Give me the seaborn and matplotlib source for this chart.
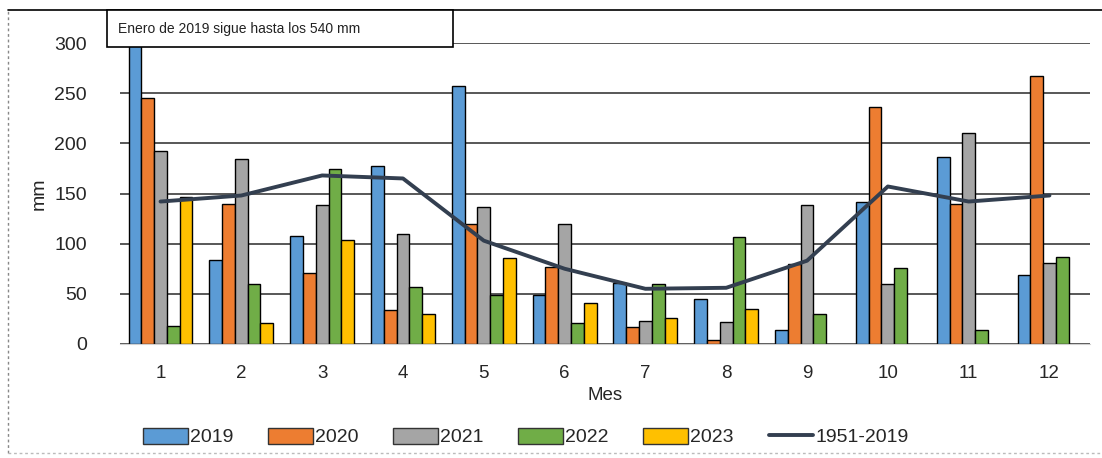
import numpy as np
import pandas as pd
import matplotlib
matplotlib.use("Agg")
import matplotlib.pyplot as plt
import seaborn as sns
from matplotlib.lines import Line2D

meses = [1, 2, 3, 4, 5, 6, 7, 8, 9, 10, 11, 12]
anios = ["2019", "2020", "2021", "2022", "2023"]
v2019 = [540, 84, 108, 177, 257, 49, 61, 45, 14, 142, 186, 69]
v2020 = [245, 140, 71, 34, 120, 77, 17, 4, 80, 236, 140, 267]
v2021 = [192, 184, 139, 110, 137, 120, 23, 22, 139, 60, 210, 81]
v2022 = [18, 60, 174, 57, 49, 21, 60, 107, 30, 76, 14, 87]
v2023 = [147, 21, 104, 30, 86, 41, 26, 35, np.nan, np.nan, np.nan, np.nan]
hist = [142, 148, 168, 165, 103, 75, 55, 56, 83, 157, 142, 148]

colores = ["#5B9BD5", "#ED7D31", "#A5A5A5", "#70AD47", "#FFC000"]
color_linea = "#333F50"

filas = []
for anio, vals in zip(anios, [v2019, v2020, v2021, v2022, v2023]):
    for m, v in zip(meses, vals):
        filas.append({"Mes": m, "mm": v, "Año": anio})
df = pd.DataFrame(filas)

sns.set_style("white")
plt.rcParams["font.family"] = ["Liberation Sans", "DejaVu Sans"]

fig = plt.figure(figsize=(11.02, 4.58), dpi=100)
ax = fig.add_axes([0.109, 0.249, 0.88, 0.657])

sns.barplot(data=df, x="Mes", y="mm", hue="Año", palette=colores,
            saturation=1, edgecolor="black", linewidth=1.0, width=0.79,
            ax=ax, errorbar=None, legend=False)
sns.lineplot(x=np.arange(12), y=hist, color=color_linea, linewidth=2.8, ax=ax)

ax.set_ylim(0, 300)
ax.set_xlim(-0.5, 11.5)
ax.set_yticks([0, 50, 100, 150, 200, 250, 300])
ax.yaxis.grid(True, color="#4a4a4a", linewidth=1.3)
ax.set_axisbelow(True)
for s in ["top", "right", "left"]:
    ax.spines[s].set_visible(False)
ax.spines["bottom"].set_color("#d0d0d0")
ax.tick_params(axis="y", labelsize=14, length=0, pad=24)
ax.tick_params(axis="x", labelsize=13.5, length=0, pad=15)
ax.set_xlabel("Mes", fontsize=13.5, labelpad=4)
ax.set_ylabel("mm", fontsize=14, labelpad=5)

handles = [plt.Rectangle((0, 0), 1, 1, facecolor=c, edgecolor="#333333", linewidth=1)
           for c in colores]
handles.append(Line2D([0], [0], color=color_linea, linewidth=2.8))
fig.legend(handles, anios + ["1951-2019"], ncol=6, loc="center",
           bbox_to_anchor=(0.477, 0.046), frameon=False, fontsize=14,
           handlelength=2.3, handleheight=0.9, handletextpad=0.1,
           columnspacing=1.8)

# nota en recuadro
fig.add_artist(plt.Rectangle((107 / 1102, 1 - 47 / 458), 346 / 1102, 37 / 458,
                             transform=fig.transFigure, facecolor="white",
                             edgecolor="black", linewidth=1.2, zorder=5))
fig.text(118 / 1102, 1 - 29 / 458, "Enero de 2019 sigue hasta los 540 mm",
         fontsize=10, ha="left", va="center", color="#222222", zorder=6)

# marco del gráfico
fig.add_artist(Line2D([0.007, 1.0], [0.978, 0.978], color="black", linewidth=1.2))
fig.add_artist(Line2D([0.007, 0.007], [0.012, 0.978], color="#888888",
                      linewidth=1.0, linestyle=(0, (2, 2))))
fig.add_artist(Line2D([0.007, 1.0], [0.012, 0.012], color="#bbbbbb",
                      linewidth=1.0, linestyle=(0, (2, 2))))

fig.savefig("out.png", dpi=100)
